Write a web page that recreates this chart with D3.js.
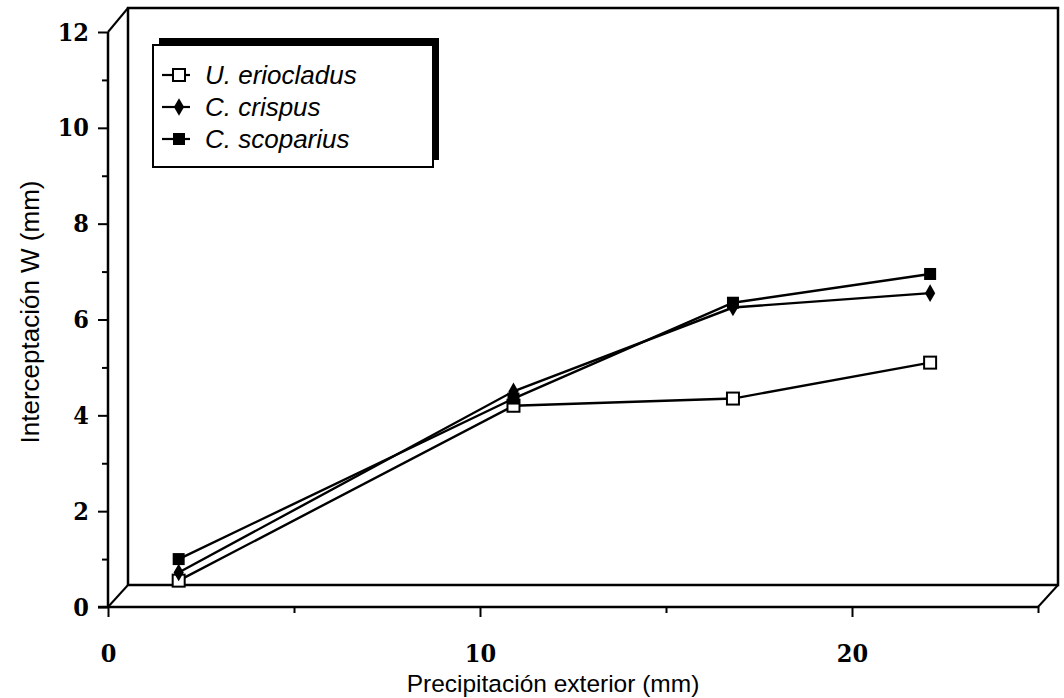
<!DOCTYPE html>
<html>
<head>
<meta charset="utf-8">
<script src="https://cdn.jsdelivr.net/npm/d3@7"></script>
<style>
  body { margin: 0; background: #fff; }
  svg { display: block; }
  .tick-num { font-family: "DejaVu Serif Condensed", "DejaVu Serif", serif; font-weight: bold; font-size: 25px; }
  .title { font-family: "Liberation Sans", Arial, sans-serif; }
  .legend-text { font-family: "Liberation Sans", Arial, sans-serif; font-style: italic; font-size: 26px; }
</style>
</head>
<body>
<svg id="chart" width="1064" height="698"></svg>
<script>
// Data
var xValues = [1.9, 10.9, 16.8, 22.1];
var eriocladus = [0.55, 4.2, 4.35, 5.1];
var crispus = [0.72, 4.5, 6.25, 6.55];
var scoparius = [1.0, 4.35, 6.35, 6.95];
var seriesNames = ["U. eriocladus", "C. crispus", "C. scoparius"];
var yTickValues = [0, 2, 4, 6, 8, 10, 12];
var xTickValues = [0, 10, 20];

var series = [
  { name: seriesNames[0], values: eriocladus, marker: "openSquare" },
  { name: seriesNames[1], values: crispus, marker: "diamond" },
  { name: seriesNames[2], values: scoparius, marker: "square" }
];

var svg = d3.select("#chart");
var depth = { dx: 20, dy: -22 };

var x = d3.scaleLinear().domain([0, 25]).range([108, 1038]);
var y = d3.scaleLinear().domain([0, 12]).range([607, 32]);

// back wall (3d box look)
var bx0 = x(0) + depth.dx, bx1 = x(25) + depth.dx;
var by0 = y(0) + depth.dy, by1 = y(12) + depth.dy - 2;
svg.append("path")
  .attr("d", "M" + bx0 + "," + by0 + "V" + by1 + "H" + bx1 + "V" + by0 + "H" + bx0)
  .attr("fill", "none").attr("stroke", "#000").attr("stroke-width", 2.5);
// depth edges
[[x(0), y(0)], [x(0), y(12)], [x(25), y(0)]].forEach(function (p) {
  svg.append("line")
    .attr("x1", p[0]).attr("y1", p[1])
    .attr("x2", p[0] + depth.dx).attr("y2", p[1] + depth.dy - (p[1] === y(12) ? 2 : 0))
    .attr("stroke", "#000").attr("stroke-width", 2);
});

// Axes
var yAxis = d3.axisLeft(y).tickValues(yTickValues).tickSize(10).tickPadding(9);
var yMinor = d3.axisLeft(y).tickValues([1, 3, 5, 7, 9, 11]).tickSize(6).tickFormat("");
var xAxis = d3.axisBottom(x).tickValues(xTickValues).tickSize(10).tickPadding(27);
var xMinor = d3.axisBottom(x).tickValues([5, 15, 25]).tickSize(6).tickFormat("");

function styleAxis(g) {
  g.select(".domain").remove();
  g.selectAll("line").attr("stroke", "#000").attr("stroke-width", 2);
  g.selectAll("text").attr("class", "tick-num").attr("fill", "#000").attr("font-family", null).attr("font-size", null);
}

svg.append("g").attr("transform", "translate(" + x(0) + ",0)").call(yAxis).call(styleAxis);
svg.append("g").attr("transform", "translate(" + x(0) + ",0)").call(yMinor).call(styleAxis);
svg.append("g").attr("transform", "translate(0," + y(0) + ")").call(xAxis).call(styleAxis);
svg.append("g").attr("transform", "translate(0," + y(0) + ")").call(xMinor).call(styleAxis);

svg.append("line").attr("x1", x(0)).attr("x2", x(0)).attr("y1", y(12)).attr("y2", y(0))
  .attr("stroke", "#000").attr("stroke-width", 2.5);
svg.append("line").attr("x1", x(0) - 10).attr("x2", x(25)).attr("y1", y(0)).attr("y2", y(0))
  .attr("stroke", "#000").attr("stroke-width", 2.5);

// Axis titles
svg.append("text").attr("class", "title").attr("font-size", 24.5)
  .attr("x", 553).attr("y", 692).attr("text-anchor", "middle")
  .text("Precipitación exterior (mm)");
svg.append("text").attr("class", "title").attr("font-size", 26)
  .attr("transform", "translate(39,312) rotate(-90)").attr("text-anchor", "middle")
  .text("Interceptación W (mm)");

// Markers
function drawMarker(g, type, cx, cy) {
  if (type === "openSquare") {
    g.append("rect").attr("x", cx - 6).attr("y", cy - 6).attr("width", 12).attr("height", 12)
      .attr("fill", "#fff").attr("stroke", "#000").attr("stroke-width", 2);
  } else if (type === "square") {
    g.append("rect").attr("x", cx - 6).attr("y", cy - 6).attr("width", 12).attr("height", 12)
      .attr("fill", "#000");
  } else {
    g.append("path").attr("d", d3.symbol(d3.symbolDiamond, 90)())
      .attr("transform", "translate(" + cx + "," + cy + ")").attr("fill", "#000");
  }
}

// Lines
var line = d3.line().x(function (d, i) { return x(xValues[i]); }).y(function (d) { return y(d); });
var plot = svg.append("g");
series.forEach(function (s) {
  plot.append("path").datum(s.values).attr("d", line)
    .attr("fill", "none").attr("stroke", "#000").attr("stroke-width", 2.4);
});
series.forEach(function (s) {
  s.values.forEach(function (v, i) {
    drawMarker(plot, s.marker, x(xValues[i]), y(v));
  });
});

// Legend
var legend = svg.append("g");
var lx = 153, ly = 45, lw = 280, lh = 122;
legend.append("rect").attr("x", lx + 6).attr("y", ly - 7).attr("width", lw).attr("height", lh)
  .attr("fill", "#000");
legend.append("rect").attr("x", lx).attr("y", ly).attr("width", lw).attr("height", lh)
  .attr("fill", "#fff").attr("stroke", "#000").attr("stroke-width", 2);
series.forEach(function (s, i) {
  var ry = 75 + i * 32;
  legend.append("line").attr("x1", lx + 9).attr("x2", lx + 37).attr("y1", ry).attr("y2", ry)
    .attr("stroke", "#000").attr("stroke-width", 2.2);
  drawMarker(legend, s.marker, lx + 26, ry);
  legend.append("text").attr("class", "legend-text")
    .attr("x", lx + 52).attr("y", ry + 9).text(s.name);
});
</script>
</body>
</html>
